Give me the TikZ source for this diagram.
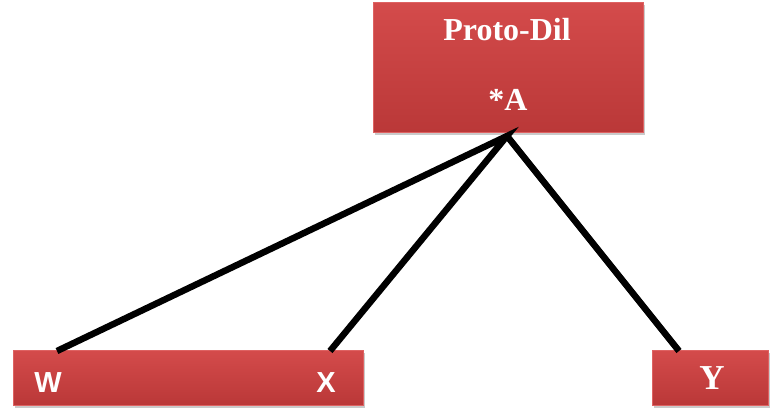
\documentclass[tikz,border=0pt]{standalone}
\usepackage{fontspec}
\setmainfont{Liberation Serif}
\newfontfamily\arialfont{Liberation Sans}
\usetikzlibrary{shadows}
\definecolor{boxtop}{HTML}{D44B4B}
\definecolor{boxbot}{HTML}{BA3838}
\definecolor{boxedge}{HTML}{DE6262}
\tikzset{
  redbox/.style={rectangle, draw=boxedge, line width=1pt, top color=boxtop, bottom color=boxbot,
    inner sep=0pt, drop shadow={shadow xshift=2pt, shadow yshift=-3pt, opacity=0.35, fill=black!60}},
  serlabel/.style={text=white, font=\bfseries\fontsize{32}{34}\selectfont, inner sep=0pt, anchor=base},
  ylabel/.style={text=white, font=\bfseries\fontsize{35}{37}\selectfont, inner sep=0pt, anchor=base},
  sanslabel/.style={text=white, font=\arialfont\bfseries\fontsize{29}{31}\selectfont, inner sep=0pt, anchor=base},
  branch/.style={line width=6.5pt, black, line cap=butt}
}
\begin{document}
\begin{tikzpicture}[x=1pt,y=-1pt]
\useasboundingbox (0,0) rectangle (770,416);
\node[redbox, minimum width=270pt, minimum height=130pt] (proto) at (508,67) {};
\node[redbox, minimum width=350pt, minimum height=55pt] (wx) at (188,377.5) {};
\node[redbox, minimum width=116pt, minimum height=55pt] (ybox) at (710,377.5) {};
\node[serlabel] (tproto) at (507,40) {Proto-Dil};
\node[serlabel] (ta) at (508,110) {*A};
\node[sanslabel] (tw) at (48,392) {W};
\node[sanslabel] (tx) at (326,392) {X};
\node[ylabel] (ty) at (712,389) {Y};
\coordinate (apex) at (507,136);
\coordinate (pw) at (57,351);
\coordinate (px) at (330,351);
\coordinate (py) at (679,351);
\draw[branch] (pw) -- (apex) -- (px);
\draw[branch] (apex) -- (py);
\end{tikzpicture}
\end{document}
